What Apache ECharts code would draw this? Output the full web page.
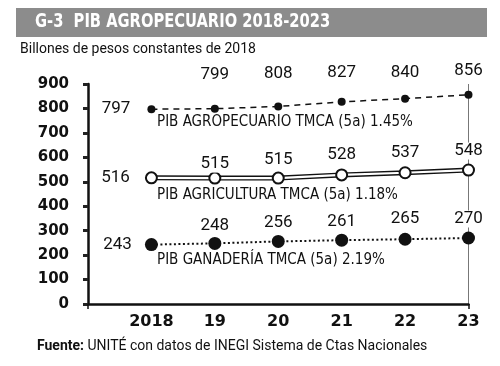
<!DOCTYPE html>
<html><head><meta charset="utf-8">
<script src="https://cdn.jsdelivr.net/npm/echarts@6/dist/echarts.min.js"></script>
<style>html,body{margin:0;padding:0;background:#fff}#c{width:500px;height:366px}</style>
</head><body><div id="c"></div>
<script>
// ---- data ----
var years = [2018, 2019, 2020, 2021, 2022, 2023];
var tickLabels = ['2018', '19', '20', '21', '22', '23'];
var agropecuario = [797, 799, 808, 827, 840, 856];
var agricultura = [516, 515, 515, 528, 537, 548];
var ganaderia = [243, 248, 256, 261, 265, 270];
var seriesNotes = ['PIB AGROPECUARIO TMCA (5a) 1.45%', 'PIB AGRICULTURA TMCA (5a) 1.18%', 'PIB GANADERÍA TMCA (5a) 2.19%'];
var yTicks = [0, 100, 200, 300, 400, 500, 600, 700, 800, 900];

// ---- styling ----
var COND = '"DejaVu Sans Condensed",Roboto,sans-serif';
var agroDist = [16, 21, 20, 17, 13, 12];
var agriDist = [14, -1, 3, 5, 5, 4];
var ganDist = [12, 3, 4, 3, 5, 4];

function build(vals, dists) {
  return vals.map(function (v, i) {
    return {
      value: [years[i], v],
      label: { position: i === 0 ? 'left' : 'top', distance: dists[i] }
    };
  });
}
var labelBase = {
  show: true, color: '#111', fontFamily: 'Roboto, sans-serif', fontSize: 17,
  backgroundColor: '#fff', padding: [0, 1], formatter: function (p) { return p.value[1]; }
};

var chart = echarts.init(document.getElementById('c'), null, { renderer: 'canvas' });
chart.setOption({
  animation: false,
  backgroundColor: '#fff',
  grid: { left: 88, right: 31.5, top: 84, bottom: 62 },
  xAxis: {
    type: 'value', min: 2017, max: 2023, interval: 1,
    axisLine: { show: true, lineStyle: { color: '#111', width: 2.5 } },
    axisTick: { show: true, customValues: [2017, 2023], length: 5, lineStyle: { color: '#111', width: 1.5 } },
    axisLabel: {
      color: '#111', fontFamily: '"DejaVu Sans",sans-serif', fontWeight: 'bold', fontSize: 16, margin: 10,
      formatter: function (v) { var i = years.indexOf(v); return i < 0 ? '' : tickLabels[i]; }
    },
    splitLine: { show: true, lineStyle: { color: '#777', width: 1 } }
  },
  yAxis: {
    type: 'value', min: 0, max: 900, interval: 100,
    axisLine: { show: true, lineStyle: { color: '#111', width: 2.5 } },
    axisTick: { show: true, length: 5, lineStyle: { color: '#222', width: 3 } },
    axisLabel: {
      color: '#111', fontFamily: '"DejaVu Sans",sans-serif', fontWeight: 'bold', fontSize: 15, margin: 19,
      formatter: function (v) { return yTicks.indexOf(v) >= 0 ? String(v) : ''; }
    },
    splitLine: { show: false }
  },
  series: [
    {
      type: 'line', z: 3, data: build(agropecuario, agroDist),
      symbol: 'circle', symbolSize: 8, itemStyle: { color: '#111' },
      lineStyle: { color: '#111', width: 1.5, type: [6, 5] },
      label: labelBase
    },
    {
      type: 'line', z: 2, data: agricultura.map(function (v, i) { return [years[i], v]; }),
      symbol: 'none', lineStyle: { color: '#111', width: 5 }, silent: true
    },
    {
      type: 'line', z: 3, data: build(agricultura, agriDist),
      symbol: 'circle', symbolSize: 11,
      itemStyle: { color: '#fff', borderColor: '#111', borderWidth: 2 },
      lineStyle: { color: '#fff', width: 2.2 },
      label: labelBase
    },
    {
      type: 'line', z: 3, data: build(ganaderia, ganDist),
      symbol: 'circle', symbolSize: 13, itemStyle: { color: '#111' },
      lineStyle: { color: '#111', width: 2, type: [2, 2.5] },
      label: labelBase
    }
  ],
  graphic: [
    { type: 'rect', shape: { x: 16, y: 8, width: 471, height: 29 }, style: { fill: '#8c8c8c' } },
    { type: 'text', x: 35, y: 22.5, scaleX: 0.86, style: { text: 'G-3  PIB AGROPECUARIO 2018-2023', fill: '#fff', font: 'bold 19px ' + COND, textVerticalAlign: 'middle' } },
    { type: 'text', x: 20, y: 49, style: { text: 'Billones de pesos constantes de 2018', fill: '#111', font: '14px Roboto, sans-serif', textVerticalAlign: 'middle' } },
    { type: 'text', x: 157, y: 122, z: 10, style: { text: seriesNotes[0], fill: '#111', font: '15px ' + COND, textVerticalAlign: 'middle' } },
    { type: 'text', x: 157, y: 195, z: 10, style: { text: seriesNotes[1], fill: '#111', font: '15px ' + COND, textVerticalAlign: 'middle' } },
    { type: 'text', x: 157, y: 260, z: 10, style: { text: seriesNotes[2], fill: '#111', font: '15px ' + COND, textVerticalAlign: 'middle' } },
    { type: 'text', x: 37, y: 346, style: { rich: { b: { font: 'bold 14px Roboto, sans-serif', fill: '#111' }, n: { font: '14px Roboto, sans-serif', fill: '#111' } }, text: '{b|Fuente:}{n| UNITÉ con datos de INEGI Sistema de Ctas Nacionales}', textVerticalAlign: 'middle' } }
  ]
});
</script></body></html>
